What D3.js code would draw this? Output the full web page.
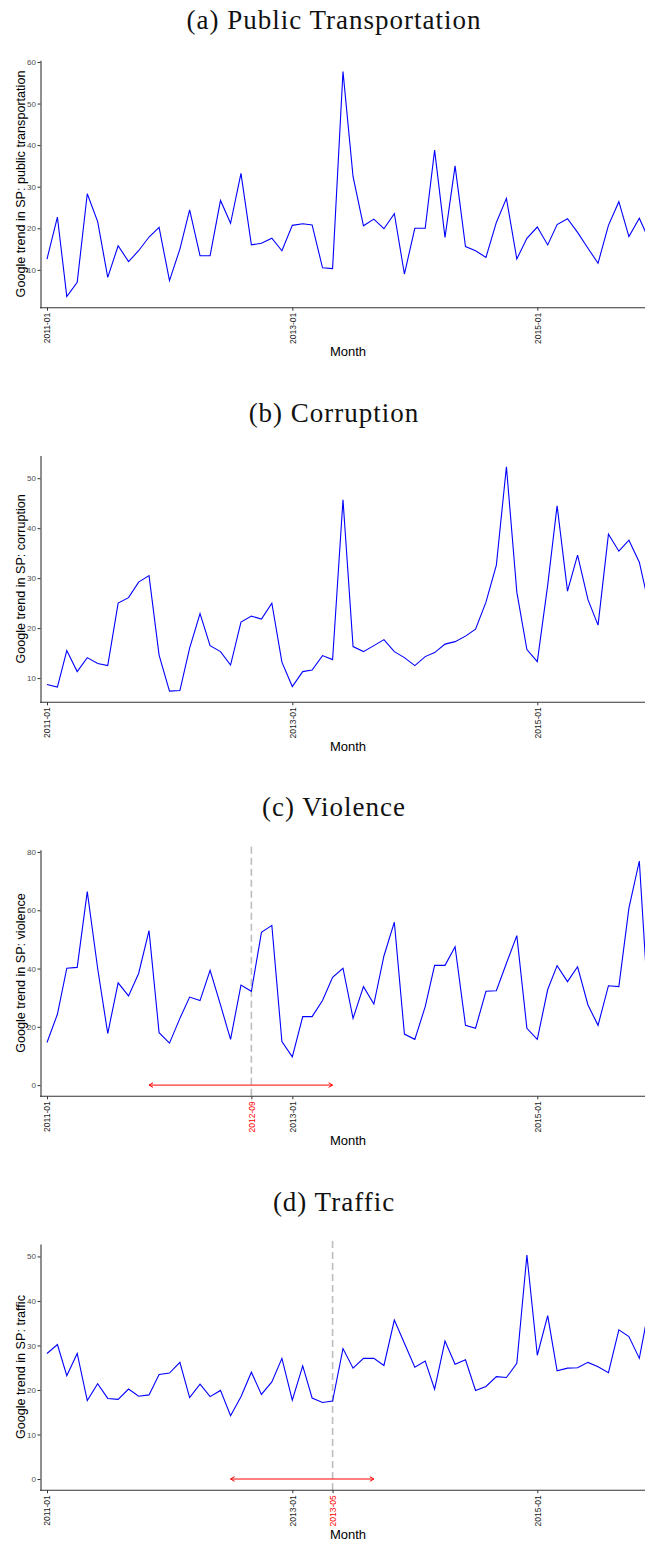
<!DOCTYPE html>
<meta charset="utf-8">
<style>
body { margin: 0; background: #fff; }
.title { font-family: "Liberation Serif", serif; font-size: 27px; letter-spacing: 1px; fill: #111; }
.ylab, .xlab { font-family: "Liberation Sans", Arial, sans-serif; font-size: 13px; fill: #000; }
.ylab { font-size: 12.6px; }
.y-axis text { font-family: "Liberation Sans", Arial, sans-serif; font-size: 8px; fill: #4d4d4d; }
.x-axis text { font-family: "Liberation Sans", Arial, sans-serif; font-size: 8.5px; fill: #1a1a1a; }
.y-axis line, .x-axis line, .y-axis path { stroke: #333; }
.trend { fill: none; stroke: #0000ff; stroke-width: 1.1; }
</style>
<svg width="645" height="1542"></svg>
<script src="https://d3js.org/d3.v7.min.js"></script>
<script>

// monthly observations, 2011-01 .. 2015-12
var months = d3.utcMonths(new Date(Date.UTC(2011, 0, 1)), new Date(Date.UTC(2016, 0, 1)));

var transport = [12.6, 22.7, 3.6, 7.0, 28.3, 21.6, 8.2, 15.8, 12.0, 14.6, 17.9, 20.2,
                 7.4, 15.0, 24.4, 13.4, 13.4, 26.7, 21.2, 33.2, 16.0, 16.4, 17.6, 14.6,
                 20.7, 21.1, 20.8, 10.5, 10.3, 57.7, 32.4, 20.6, 22.2, 19.9, 23.5, 9.0,
                 20.0, 20.0, 38.8, 17.8, 35.0, 15.6, 14.6, 13.0, 21.4, 27.2, 12.6, 17.6,
                 20.3, 16.0, 20.9, 22.3, 19.0, 15.2, 11.6, 20.7, 26.4, 18.0, 22.4, 17.0];

var corruption = [8.7, 8.2, 15.5, 11.3, 14.1, 12.9, 12.5, 25.0, 26.1, 29.2, 30.5, 14.6,
                  7.4, 7.5, 16.0, 22.9, 16.5, 15.3, 12.6, 21.2, 22.4, 21.8, 25.0, 13.2,
                  8.3, 11.3, 11.6, 14.5, 13.7, 45.7, 16.3, 15.3, 16.5, 17.7, 15.3, 14.1,
                  12.5, 14.3, 15.1, 16.8, 17.3, 18.4, 19.8, 25.2, 32.6, 52.3, 27.2, 15.7,
                  13.3, 28.6, 44.5, 27.4, 34.6, 25.7, 20.6, 38.8, 35.4, 37.6, 33.2, 24.2];

var violence = [14.6, 24.3, 40.1, 40.4, 66.4, 40.0, 17.7, 35.1, 30.6, 38.3, 53.0, 18.0,
                14.4, 22.9, 30.2, 29.0, 39.4, 27.5, 15.7, 34.3, 32.2, 52.4, 54.8, 14.9,
                9.7, 23.5, 23.5, 29.0, 37.0, 40.1, 22.9, 33.8, 27.8, 44.3, 55.9, 17.5,
                15.7, 26.9, 41.1, 41.1, 47.5, 20.5, 19.5, 32.2, 32.4, 41.8, 51.3, 19.5,
                15.7, 32.8, 41.0, 35.5, 40.6, 27.5, 20.5, 34.1, 33.8, 60.7, 76.9, 21.0];

var traffic = [28.2, 30.2, 23.2, 28.2, 17.6, 21.4, 18.1, 17.9, 20.2, 18.6, 18.9, 23.5,
               23.8, 26.2, 18.3, 21.3, 18.5, 19.9, 14.2, 18.5, 24.0, 19.0, 21.8, 27.1,
               17.7, 25.4, 18.2, 17.2, 17.5, 29.3, 24.9, 27.1, 27.1, 25.5, 35.7, 30.5,
               25.1, 26.5, 20.2, 31.0, 25.8, 26.8, 19.9, 20.8, 23.0, 22.8, 26.0, 50.3,
               27.8, 36.7, 24.3, 24.9, 25.0, 26.2, 25.2, 23.9, 33.5, 32.0, 27.1, 39.0];

var series = [transport, corruption, violence, traffic];

var titles = ["(a) Public Transportation", "(b) Corruption", "(c) Violence", "(d) Traffic"];
var yLabels = ["Google trend in SP: public transportation", "Google trend in SP: corruption",
               "Google trend in SP: violence", "Google trend in SP: traffic"];
var yTicks = [[10, 20, 30, 40, 50, 60], [10, 20, 30, 40, 50], [0, 20, 40, 60, 80], [0, 10, 20, 30, 40, 50]];
var xTicks = ["2011-01", "2013-01", "2015-01"];

// event month (dashed line) and the arrow drawn at 0 around it
var eventMonth = [null, null, "2012-09", "2013-05"];
var arrowFrom  = [null, null, "2011-11", "2012-07"];
var arrowTo    = [null, null, "2013-05", "2013-09"];

var svg = d3.select("svg");
var parseMonth = d3.utcParse("%Y-%m");
var fmtMonth = d3.utcFormat("%Y-%m");

// pixel layout of each panel
var layout = [
  {title: 29,   top: 60.3,   bottom: 307.7},
  {title: 422,  top: 455.5,  bottom: 702.3},
  {title: 816,  top: 849.8,  bottom: 1096.3},
  {title: 1211, top: 1243.9, bottom: 1490.2}
];
var left = 40.5, right = 665;

var x = d3.scaleUtc()
    .domain([parseMonth("2011-01"), parseMonth("2015-01")])
    .range([47, 537.3]);

series.forEach(function(values, i) {
  var L = layout[i];
  var g = svg.append("g");

  // ggplot-like 5% expansion of the value range (arrow at 0 counts too)
  var ext = d3.extent(eventMonth[i] ? values.concat([0]) : values);
  var pad = (ext[1] - ext[0]) * 0.05;
  var y = d3.scaleLinear()
      .domain([ext[0] - pad, ext[1] + pad])
      .range([L.bottom, L.top]);

  g.append("text")
      .attr("class", "title")
      .attr("x", 334)
      .attr("y", L.title)
      .attr("text-anchor", "middle")
      .text(titles[i]);

  // event marker
  if (eventMonth[i]) {
    g.append("line")
        .attr("x1", x(parseMonth(eventMonth[i])))
        .attr("x2", x(parseMonth(eventMonth[i])))
        .attr("y1", L.top - 3)
        .attr("y2", L.bottom)
        .attr("stroke", "#bdbdbd")
        .attr("stroke-width", 1.6)
        .attr("stroke-dasharray", "7,4");

    var ax0 = x(parseMonth(arrowFrom[i])), ax1 = x(parseMonth(arrowTo[i])), ay = y(0);
    g.append("path")
        .attr("fill", "none")
        .attr("stroke", "red")
        .attr("stroke-width", 1)
        .attr("d", "M" + ax0 + "," + ay + "H" + ax1 +
                   "M" + (ax0 + 4) + "," + (ay - 2.3) + "L" + ax0 + "," + ay + "L" + (ax0 + 4) + "," + (ay + 2.3) +
                   "M" + (ax1 - 4) + "," + (ay - 2.3) + "L" + ax1 + "," + ay + "L" + (ax1 - 4) + "," + (ay + 2.3));
  }

  var line = d3.line()
      .x(function(d, k) { return x(months[k]); })
      .y(function(d) { return y(d); });

  g.append("path")
      .datum(values)
      .attr("class", "trend")
      .attr("d", line);

  // y axis
  g.append("g")
      .attr("class", "y-axis")
      .attr("transform", "translate(" + left + ",0)")
      .call(d3.axisLeft(y).tickValues(yTicks[i]).tickSize(3).tickSizeOuter(0).tickPadding(1.5))
    .select(".domain")
      .attr("stroke-width", 1.1);

  // x axis
  var ticks = xTicks.map(parseMonth);
  if (eventMonth[i]) ticks.push(parseMonth(eventMonth[i]));
  var xa = g.append("g")
      .attr("class", "x-axis")
      .attr("transform", "translate(0," + L.bottom + ")")
      .call(d3.axisBottom(x).tickValues(ticks).tickSize(3).tickFormat(fmtMonth));
  xa.select(".domain").remove();
  xa.append("line")
      .attr("x1", left - 0.5)
      .attr("x2", right)
      .attr("stroke", "#333")
      .attr("stroke-width", 1.1);
  xa.selectAll("text")
      .attr("transform", "rotate(-90)")
      .attr("x", -5)
      .attr("y", 0)
      .attr("dy", "0.35em")
      .attr("text-anchor", "end")
      .style("fill", function(d) { return fmtMonth(d) === eventMonth[i] ? "red" : null; });

  g.append("text")
      .attr("class", "xlab")
      .attr("x", 348)
      .attr("y", L.bottom + 48.5)
      .attr("text-anchor", "middle")
      .text("Month");

  g.append("text")
      .attr("class", "ylab")
      .attr("transform", "translate(24.5," + ((L.top + L.bottom) / 2) + ") rotate(-90)")
      .attr("text-anchor", "middle")
      .text(yLabels[i]);
});

</script>
